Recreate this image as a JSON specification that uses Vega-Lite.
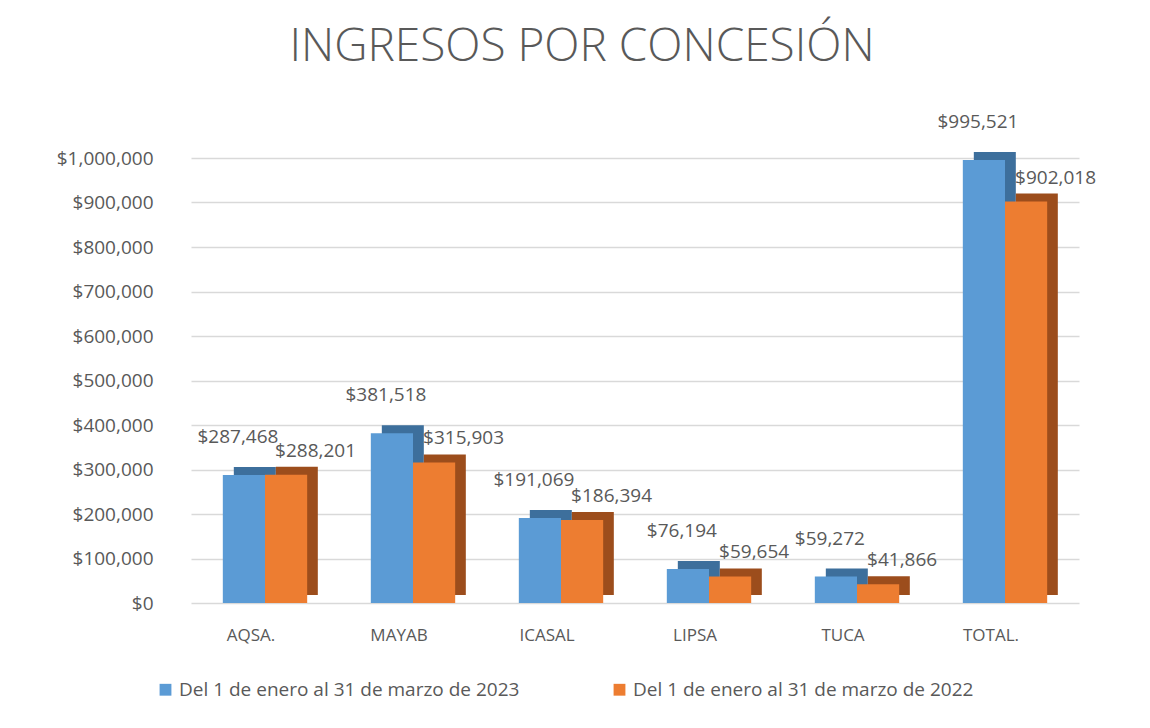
{
  "$schema": "https://vega.github.io/schema/vega-lite/v6.json",
  "width": 888,
  "height": 445,
  "autosize": {"type": "none"},
  "padding": {"left": 191, "top": 158, "right": 71, "bottom": 125},
  "background": "#ffffff",
  "title": {
    "text": "INGRESOS POR CONCESIÓN",
    "font": "Open Sans",
    "fontSize": 46,
    "fontWeight": 300,
    "color": "#595959",
    "anchor": "middle",
    "offset": 42,
    "dx": -53
  },
  "data": {
    "values": [
      {"cat": "AQSA.", "period": "Del 1 de enero al 31 de marzo de 2023", "value": 287468},
      {"cat": "AQSA.", "period": "Del 1 de enero al 31 de marzo de 2022", "value": 288201},
      {"cat": "MAYAB", "period": "Del 1 de enero al 31 de marzo de 2023", "value": 381518},
      {"cat": "MAYAB", "period": "Del 1 de enero al 31 de marzo de 2022", "value": 315903},
      {"cat": "ICASAL", "period": "Del 1 de enero al 31 de marzo de 2023", "value": 191069},
      {"cat": "ICASAL", "period": "Del 1 de enero al 31 de marzo de 2022", "value": 186394},
      {"cat": "LIPSA", "period": "Del 1 de enero al 31 de marzo de 2023", "value": 76194},
      {"cat": "LIPSA", "period": "Del 1 de enero al 31 de marzo de 2022", "value": 59654},
      {"cat": "TUCA", "period": "Del 1 de enero al 31 de marzo de 2023", "value": 59272},
      {"cat": "TUCA", "period": "Del 1 de enero al 31 de marzo de 2022", "value": 41866},
      {"cat": "TOTAL.", "period": "Del 1 de enero al 31 de marzo de 2023", "value": 995521},
      {"cat": "TOTAL.", "period": "Del 1 de enero al 31 de marzo de 2022", "value": 902018}
    ]
  },
  "encoding": {
    "x": {
      "field": "cat",
      "type": "nominal",
      "sort": ["AQSA.", "MAYAB", "ICASAL", "LIPSA", "TUCA", "TOTAL."],
      "scale": {"paddingInner": 0.43, "paddingOuter": 0.215},
      "axis": {
        "title": null,
        "labelAngle": 0,
        "domain": false,
        "ticks": false,
        "labelPadding": 24,
        "labelOffset": -14,
        "labelFont": "Open Sans",
        "labelFontSize": 17,
        "labelColor": "#595959"
      }
    },
    "y": {
      "field": "value",
      "type": "quantitative",
      "scale": {"domain": [0, 1000000], "nice": false},
      "axis": {
        "title": null,
        "values": [0, 100000, 200000, 300000, 400000, 500000, 600000, 700000, 800000, 900000, 1000000],
        "format": "$,.0f",
        "domain": false,
        "ticks": false,
        "labelPadding": 38,
        "labelFont": "Open Sans",
        "labelFontSize": 19,
        "labelColor": "#595959",
        "gridColor": "#d9d9d9",
        "gridWidth": 1.5
      }
    }
  },
  "layer": [
    {
      "mark": {"type": "bar", "yOffset": -8},
      "encoding": {
        "xOffset": {
          "field": "period",
          "type": "nominal",
          "sort": ["Del 1 de enero al 31 de marzo de 2023", "Del 1 de enero al 31 de marzo de 2022"],
          "scale": {"range": [11, 95]}
        },
        "color": {
          "condition": {"test": "datum.period == 'Del 1 de enero al 31 de marzo de 2023'", "value": "#3d6f9c"},
          "value": "#9c4d1c"
        }
      }
    },
    {
      "encoding": {
        "xOffset": {
          "field": "period",
          "type": "nominal",
          "sort": ["Del 1 de enero al 31 de marzo de 2023", "Del 1 de enero al 31 de marzo de 2022"]
        }
      },
      "layer": [
        {
          "mark": {"type": "bar"},
          "encoding": {
            "color": {
              "field": "period",
              "type": "nominal",
              "scale": {
                "domain": ["Del 1 de enero al 31 de marzo de 2023", "Del 1 de enero al 31 de marzo de 2022"],
                "range": ["#5b9bd5", "#ed7d31"]
              },
              "legend": {
                "title": null,
                "orient": "none",
                "legendX": -35,
                "legendY": 522,
                "direction": "horizontal",
                "symbolType": "square",
                "symbolSize": 140,
                "symbolStrokeWidth": 0,
                "labelFont": "Open Sans",
                "labelFontSize": 19,
                "labelColor": "#595959",
                "labelLimit": 500,
                "columnPadding": 90
              }
            }
          }
        },
        {
          "transform": [{"filter": "datum.period == 'Del 1 de enero al 31 de marzo de 2023'"}],
          "mark": {
            "type": "text",
            "dy": -28,
            "dx": -6,
            "align": "center",
            "font": "Open Sans",
            "fontSize": 19,
            "color": "#595959",
            "baseline": "bottom"
          },
          "encoding": {
            "text": {"field": "value", "type": "quantitative", "format": "$,.0f"}
          }
        },
        {
          "transform": [{"filter": "datum.period == 'Del 1 de enero al 31 de marzo de 2022'"}],
          "mark": {
            "type": "text",
            "dy": -14,
            "dx": -11,
            "align": "left",
            "font": "Open Sans",
            "fontSize": 19,
            "color": "#595959",
            "baseline": "bottom"
          },
          "encoding": {
            "text": {"field": "value", "type": "quantitative", "format": "$,.0f"}
          }
        }
      ]
    }
  ],
  "resolve": {"scale": {"xOffset": "independent"}},
  "config": {"view": {"stroke": null}}
}
